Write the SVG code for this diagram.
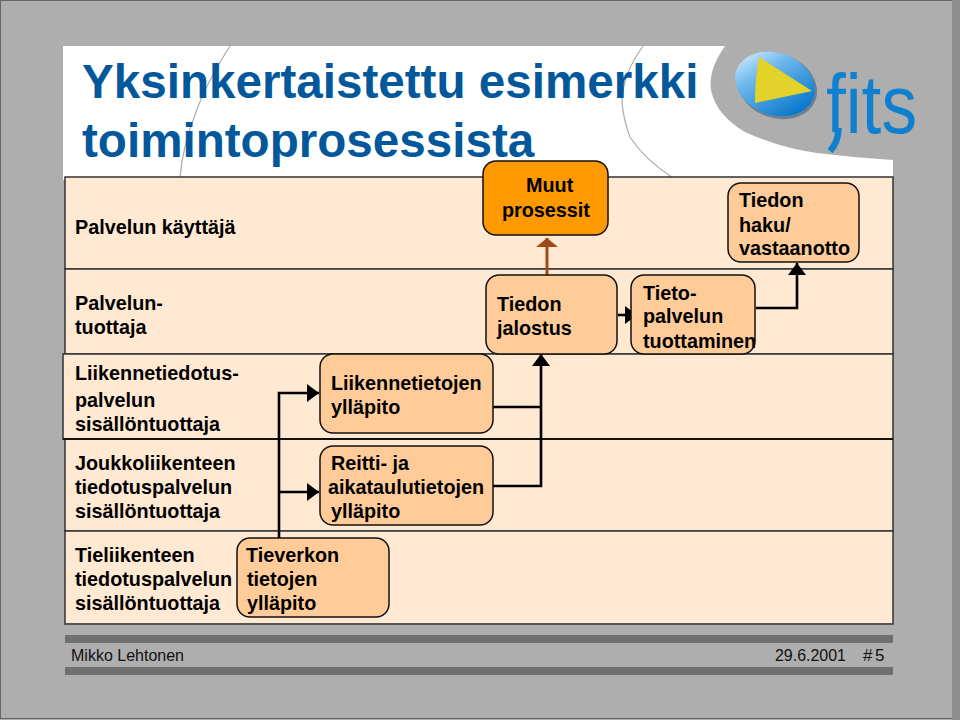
<svg xmlns="http://www.w3.org/2000/svg" width="960" height="720" viewBox="0 0 960 720">
<style>
text{font-family:"Liberation Sans",Arial,sans-serif;font-size:19.8px;font-weight:bold;fill:#000}
.title{font-size:47.6px;fill:#03589c}
.foot{font-size:17px;font-weight:normal;fill:#111}
.box{fill:#ffcc99;stroke:#111;stroke-width:1.5}
.band{fill:#ffe9d3;stroke:#333;stroke-width:1.5}
.wire{fill:none;stroke:#000;stroke-width:2.6}
</style>
<defs>
<linearGradient id="ball" x1="0" y1="0" x2="1" y2="0.6"><stop offset="0" stop-color="#eef8ff"/><stop offset=".4" stop-color="#6fb9ee"/><stop offset="1" stop-color="#0a78cc"/></linearGradient>
<marker id="ah" markerUnits="userSpaceOnUse" markerWidth="13" markerHeight="18" refX="12" refY="9" orient="auto"><path d="M0 0L12 9L0 18Z" fill="#000"/></marker>
<marker id="ab" markerUnits="userSpaceOnUse" markerWidth="10" markerHeight="22" refX="9" refY="11" orient="auto"><path d="M0 0L9 11L0 22Z" fill="#a0491a"/></marker>
</defs>
<rect width="960" height="720" fill="#aeaeae"/>
<rect x=".5" y=".5" width="952" height="718" fill="none" stroke="#666"/>
<rect x="952" y="0" width="8" height="720" fill="#8e8e8e"/>
<path d="M63 46H725Q708 70 711 90Q716 115 745 132Q780 148 817 153Q860 158 893 160V180H63Z" fill="#fff"/>
<path d="M230 46Q205 85 195 115Q183 145 180 177M643 46Q622 75 622 103Q624 122 630 137Q645 160 672 177" fill="none" stroke="#aaa" stroke-width="1.2"/>
<text class="title" x="82" y="98">Yksinkertaistettu esimerkki</text>
<text class="title" x="82" y="157">toimintoprosessista</text>
<g id="logo">
<ellipse cx="777" cy="86" rx="41" ry="32" transform="rotate(20 777 86)" fill="#6e7f90"/>
<ellipse cx="775" cy="84" rx="41" ry="31" transform="rotate(20 775 84)" fill="url(#ball)"/>
<path d="M759 57L812 91L755 103Q755 78 759 57Z" fill="#e3d22a"/>
<text x="826" y="133" style="font-weight:normal;font-size:84px;fill:#0f7fd0" textLength="91" lengthAdjust="spacingAndGlyphs">fits</text>
<path d="M838.500 128Q838.500 142 830 151" fill="none" stroke="#0f7fd0" stroke-width="6.500"/>
</g>
<g id="bands">
<rect class="band" x="65" y="177" width="828" height="92"/>
<rect class="band" x="65" y="269" width="828" height="85"/>
<rect class="band" x="63" y="354" width="830" height="85"/>
<rect class="band" x="65" y="439" width="828" height="92"/>
<rect class="band" x="65" y="531" width="828" height="93"/>
<path d="M63 439H893" stroke="#111" stroke-width="2"/>
<path d="M65 624H893" stroke="#555" stroke-width="2"/>
</g>
<g id="lane-labels">
<text x="75" y="234">Palvelun käyttäjä</text>
<text x="75" y="310">Palvelun-</text><text x="75" y="334">tuottaja</text>
<text x="75" y="380">Liikennetiedotus-</text><text x="75" y="407">palvelun</text><text x="75" y="431">sisällöntuottaja</text>
<text x="75" y="470">Joukkoliikenteen</text><text x="75" y="494">tiedotuspalvelun</text><text x="75" y="518">sisällöntuottaja</text>
<text x="75" y="562">Tieliikenteen</text><text x="75" y="586">tiedotuspalvelun</text><text x="75" y="610">sisällöntuottaja</text>
</g>
<g id="connectors">
<path class="wire" d="M279 538V393H319" marker-end="url(#ah)"/>
<path class="wire" d="M279 492H319" marker-end="url(#ah)"/>
<path class="wire" d="M493 407H541M493 486H541V354" marker-end="url(#ah)"/>
<path class="wire" d="M618 315H637" marker-end="url(#ah)"/>
<path class="wire" d="M756 308H797V263" marker-end="url(#ah)"/>
<path d="M547 275V238" fill="none" stroke="#a0491a" stroke-width="3" marker-end="url(#ab)"/>
</g>
<g id="muut"><rect x="483" y="161" width="125" height="74" rx="13" fill="#ff9900" stroke="#111" stroke-width="1.5"/><text x="526" y="192">Muut</text><text x="502" y="217">prosessit</text></g>
<g id="haku"><rect class="box" x="728" y="183" width="131" height="79" rx="13"/><text x="739" y="207">Tiedon</text><text x="739" y="232">haku/</text><text x="739" y="255">vastaanotto</text></g>
<g id="jalostus"><rect class="box" x="486" y="275" width="131" height="79" rx="13"/><text x="497" y="311">Tiedon</text><text x="497" y="335">jalostus</text></g>
<g id="tieto"><rect class="box" x="631" y="275" width="124" height="79" rx="13"/><text x="643" y="300">Tieto-</text><text x="643" y="323">palvelun</text><text x="643" y="348">tuottaminen</text></g>
<g id="liikenne"><rect class="box" x="320" y="354" width="173" height="79" rx="13"/><text x="331" y="390">Liikennetietojen</text><text x="331" y="414">ylläpito</text></g>
<g id="reitti"><rect class="box" x="320" y="446" width="173" height="79" rx="13"/><text x="331" y="470">Reitti- ja</text><text x="328" y="494">aikataulutietojen</text><text x="331" y="518">ylläpito</text></g>
<g id="tieverkon"><rect class="box" x="237" y="538" width="152" height="79" rx="13"/><text x="246" y="562">Tieverkon</text><text x="247" y="586">tietojen</text><text x="247" y="610">ylläpito</text></g>
<g id="footer">
<rect x="65" y="635" width="828" height="8" fill="#6f7070"/>
<rect x="65" y="667" width="828" height="8" fill="#6f7070"/>
<text class="foot" x="71" y="661" textLength="113" lengthAdjust="spacingAndGlyphs">Mikko Lehtonen</text>
<text class="foot" x="775" y="661" textLength="71" lengthAdjust="spacingAndGlyphs">29.6.2001</text>
<text class="foot" x="863" y="661">#</text><text class="foot" x="875" y="661">5</text>
</g>
</svg>
